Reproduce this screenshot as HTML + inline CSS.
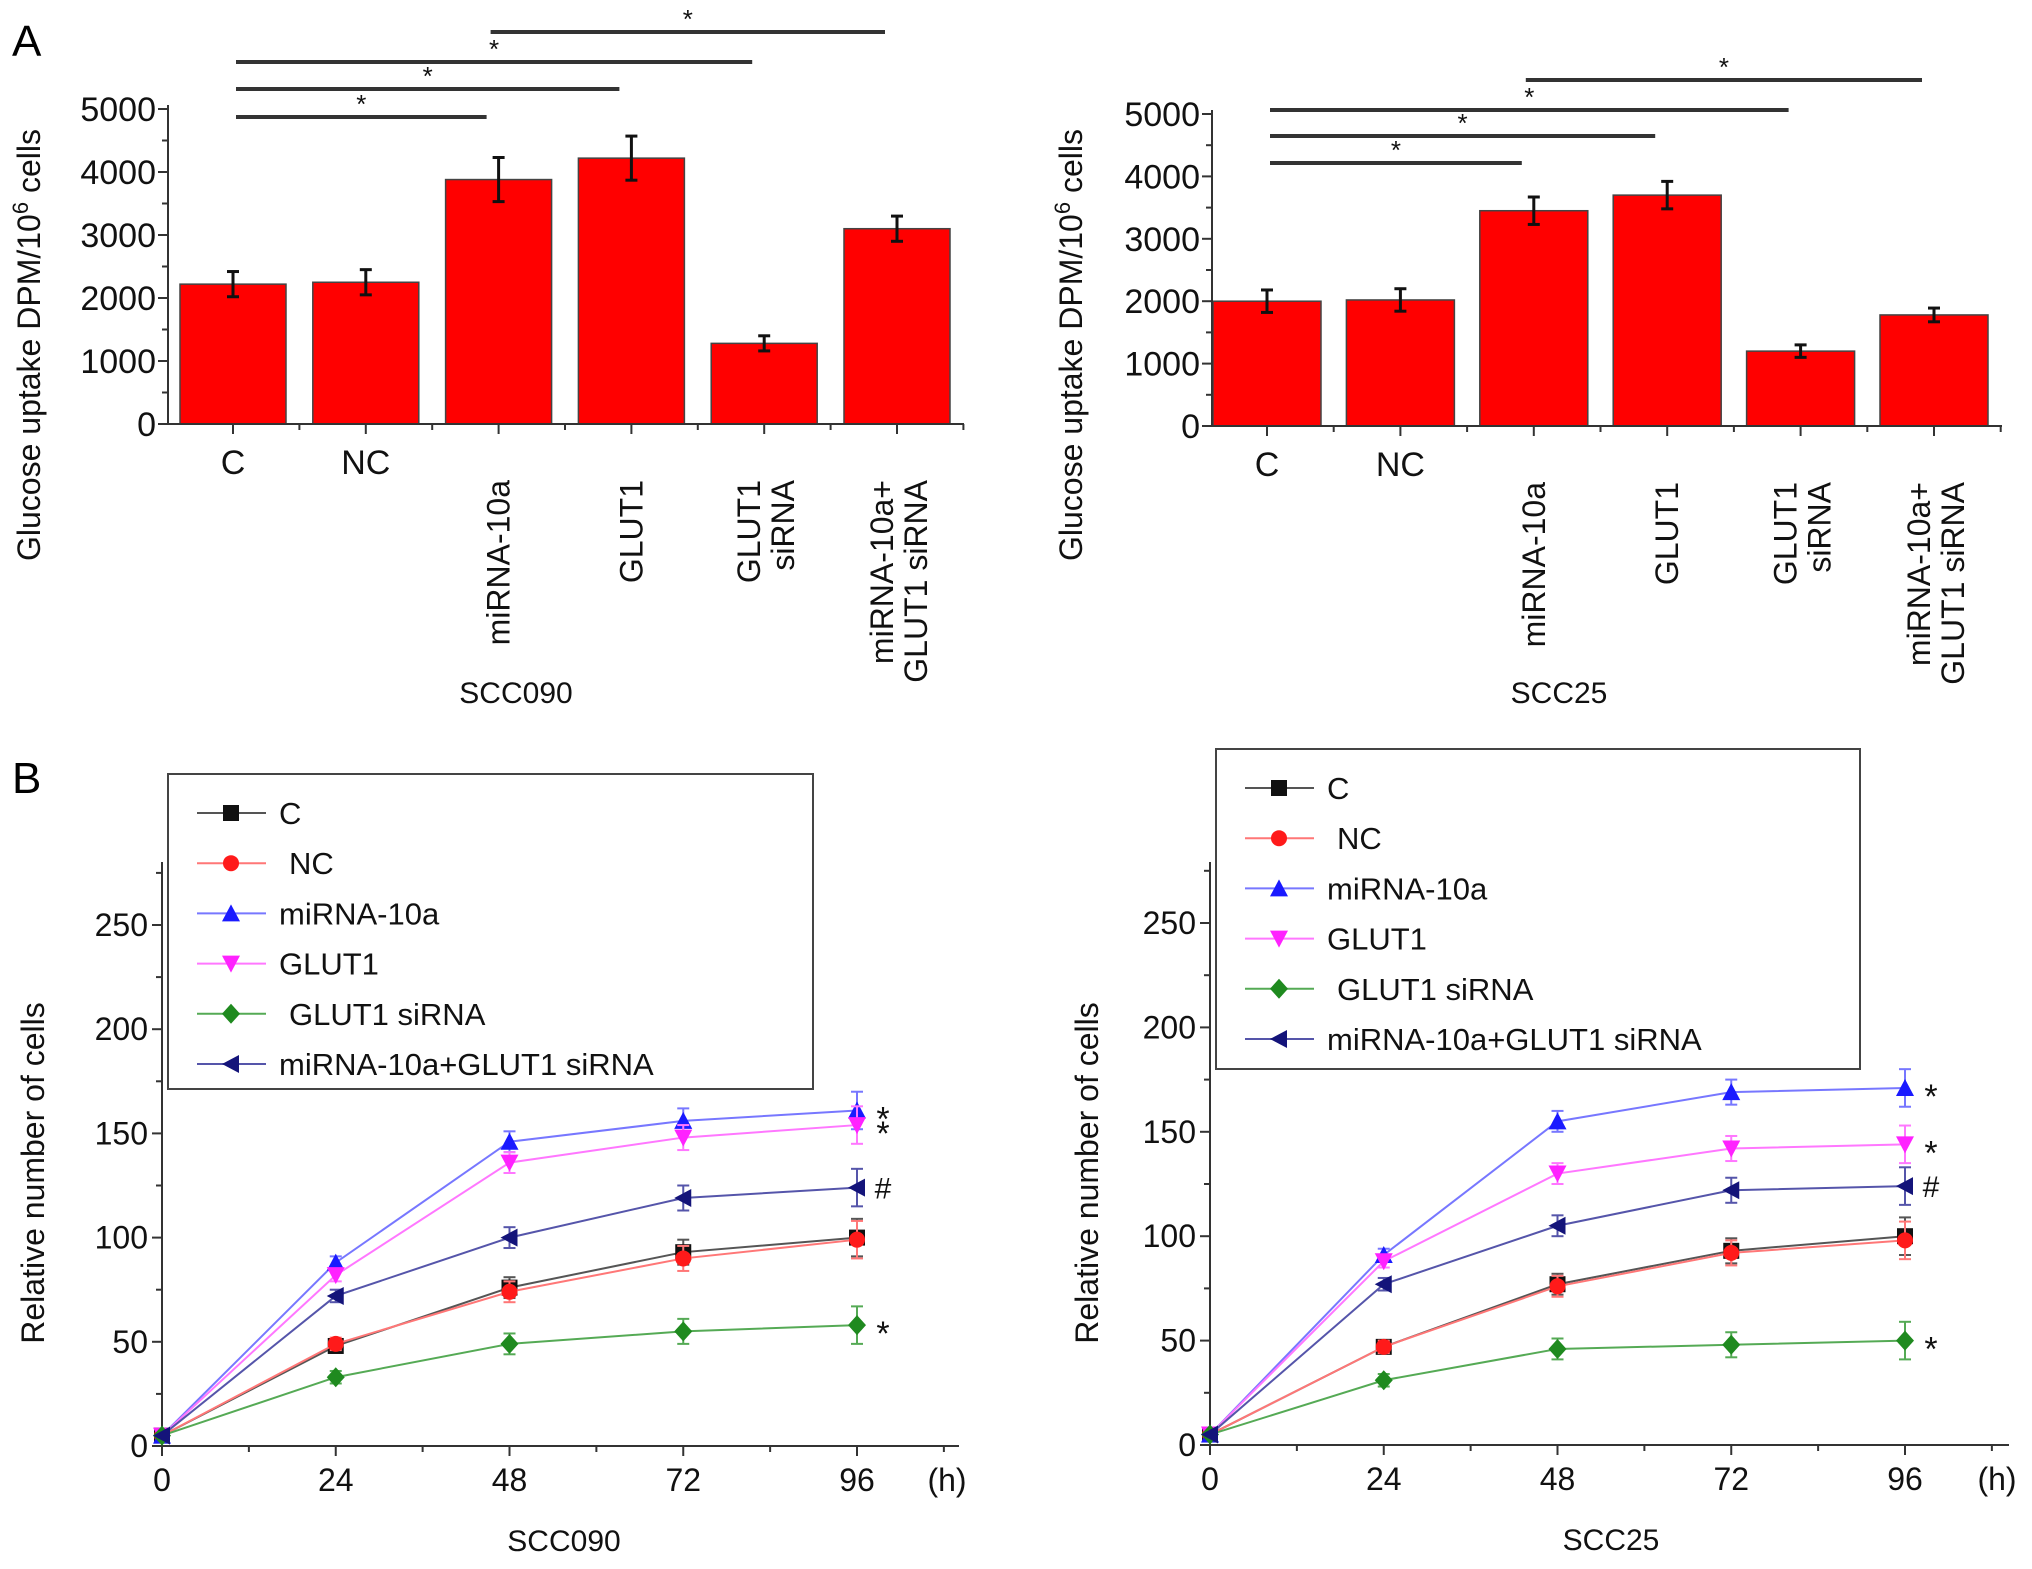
<!DOCTYPE html>
<html><head><meta charset="utf-8"><style>
html,body{margin:0;padding:0;background:#fff}
svg{display:block;font-family:"Liberation Sans",Arial,sans-serif}
</style></head><body>
<svg id="fig" width="2032" height="1569" viewBox="0 0 2032 1569" xmlns="http://www.w3.org/2000/svg">
<text x="12" y="56" font-size="44">A</text>
<text x="12" y="793" font-size="44">B</text>
</svg>
<script>
const barCategories = [["C"],["NC"],["miRNA-10a"],["GLUT1"],["GLUT1","siRNA"],["miRNA-10a+","GLUT1 siRNA"]];
const barValuesSCC090 = [2220,2250,3880,4220,1280,3100];
const barErrSCC090 = [200,200,350,350,120,200];
const barValuesSCC25 = [2000,2020,3450,3700,1200,1780];
const barErrSCC25 = [180,180,220,220,100,110];
const barTicks = [0,1000,2000,3000,4000,5000];
const sigSCC090 = [[0,2,"*"],[0,3,"*"],[0,4,"*"],[2,5,"*"]];
const sigSCC25 = [[0,2,"*"],[0,3,"*"],[0,4,"*"],[2,5,"*"]];

const lineHours = [0,24,48,72,96];
const lineTicks = [0,50,100,150,200,250];
const seriesNames = ["C","NC","miRNA-10a","GLUT1","GLUT1 siRNA","miRNA-10a+GLUT1 siRNA"];
const scc090_C = [5,48,76,93,100];
const scc090_NC = [5,49,74,90,99];
const scc090_miR = [5,88,146,156,161];
const scc090_GLUT1 = [5,82,136,148,154];
const scc090_si = [5,33,49,55,58];
const scc090_combo = [5,72,100,119,124];
const scc25_C = [5,47,77,93,100];
const scc25_NC = [5,47,76,92,98];
const scc25_miR = [5,91,155,169,171];
const scc25_GLUT1 = [5,88,130,142,144];
const scc25_si = [5,31,46,48,50];
const scc25_combo = [5,77,105,122,124];
const lineErr = [1,3,5,6,9];
const endMarks090 = ["","","*","*","*","#"];
const endMarks25 = ["","","*","*","*","#"];

const NS="http://www.w3.org/2000/svg";
const svg=document.getElementById('fig');
function el(tag,attrs,parent){const e=document.createElementNS(NS,tag);for(const k in attrs)e.setAttribute(k,attrs[k]);(parent||svg).appendChild(e);return e;}
function txt(x,y,s,size,anchor,parent,extra){const t=el('text',Object.assign({x:x,y:y,'font-size':size,'text-anchor':anchor||'middle',fill:'#111'},extra||{}),parent);t.textContent=s;return t;}

function barChart(cfg){
  const g=el('g',{});
  
  
  const y=v=>cfg.y0-(v/5000)*(cfg.y0-cfg.y5);
  const x=i=>cfg.x0+i*cfg.step;
  cfg.values.forEach((v,i)=>{
    const b=el('rect',{x:x(i)-cfg.bw/2,y:y(v),width:cfg.bw,height:cfg.y0-y(v),fill:'#ff0000',stroke:'#444','stroke-width':1.5},g);
    
    
    const e=cfg.err[i];
    el('line',{x1:x(i),x2:x(i),y1:y(v+e),y2:y(v-e),stroke:'#111','stroke-width':3},g);
    el('line',{x1:x(i)-6,x2:x(i)+6,y1:y(v+e),y2:y(v+e),stroke:'#111','stroke-width':3},g);
    el('line',{x1:x(i)-6,x2:x(i)+6,y1:y(v-e),y2:y(v-e),stroke:'#111','stroke-width':3},g);
  });
  el('line',{x1:cfg.ax,x2:cfg.ax,y1:cfg.y0,y2:cfg.y5-4,stroke:'#333','stroke-width':2},g);
  el('line',{x1:cfg.ax,x2:cfg.xend,y1:cfg.y0,y2:cfg.y0,stroke:'#333','stroke-width':2},g);
  barTicks.forEach(t=>{
    el('line',{x1:cfg.ax-10,x2:cfg.ax,y1:y(t),y2:y(t),stroke:'#333','stroke-width':2},g);
    if(t<5000) el('line',{x1:cfg.ax-6,x2:cfg.ax,y1:y(t+500),y2:y(t+500),stroke:'#333','stroke-width':2},g);
    const l=txt(cfg.ax-12,y(t)+12,String(t),34,'end',g);
    
    
  });
  barCategories.forEach((c,i)=>{
    el('line',{x1:x(i),x2:x(i),y1:cfg.y0,y2:cfg.y0+10,stroke:'#333','stroke-width':2},g);
    el('line',{x1:x(i)+cfg.step/2,x2:x(i)+cfg.step/2,y1:cfg.y0,y2:cfg.y0+6,stroke:'#333','stroke-width':2},g);
    let l;
    if(i<2){ l=txt(x(i),cfg.y0+50,c[0],34,'middle',g); }
    else{
      l=el('text',{transform:`translate(${x(i)+(c.length>1?-4:11)},${cfg.y0+56}) rotate(-90)`,'font-size':32,'text-anchor':'end',fill:'#111',textLength:0},g);
      l.removeAttribute('textLength');
      c.forEach((s,k)=>{const ts=el('tspan',{x:0,dy:k==0?0:34},l);ts.textContent=s;});
    }
    
    
  });
  const yt=el('text',{transform:`translate(${cfg.ytx},${cfg.yty}) rotate(-90)`,'font-size':32,'text-anchor':'middle',fill:'#111'},g);
  yt.innerHTML='Glucose uptake DPM/10<tspan dy="-12" font-size="22">6</tspan><tspan dy="12"> cells</tspan>';
  
  
  const xt=txt(cfg.xtx,703,cfg.title,30,'middle',g);
  
  
  cfg.sig.forEach((s,k)=>{
    const ly=cfg.sigY[k];
    const xa=x(s[0])+(s[0]==2?-8:3), xb=x(s[1])-12;
    const ln=el('line',{x1:xa,x2:xb,y1:ly,y2:ly,stroke:'#333','stroke-width':4},g);
    
    
    txt((xa+xb)/2,ly-4,s[2],26,'middle',g);
  });
}
barChart({name:'bar-chart-scc090',x0:233,step:132.8,bw:106,ax:168,xend:964,y0:424,y5:109,values:barValuesSCC090,err:barErrSCC090,sig:sigSCC090,sigY:[117,89,62,32],ytx:40,yty:345,xtx:516,title:'SCC090'});
barChart({name:'bar-chart-scc25',x0:1267,step:133.4,bw:108,ax:1212,xend:2002,y0:426,y5:114,values:barValuesSCC25,err:barErrSCC25,sig:sigSCC25,sigY:[163,136,110,80],ytx:1082,yty:345,xtx:1559,title:'SCC25'});

const colors=['#111111','#ff1a1a','#1a1aff','#ff22ff','#1f8a1f','#14147a'];
const lineColors=['#555','#ff7777','#7777ff','#ff77ff','#55aa55','#5555aa'];
function marker(g,type,cx,cy,c){
  const s=8;
  if(type==0) return el('rect',{x:cx-s,y:cy-s,width:2*s,height:2*s,fill:c},g);
  if(type==1) return el('circle',{cx:cx,cy:cy,r:s,fill:c},g);
  if(type==2) return el('polygon',{points:`${cx},${cy-s-1} ${cx+s+1},${cy+s} ${cx-s-1},${cy+s}`,fill:c},g);
  if(type==3) return el('polygon',{points:`${cx},${cy+s+1} ${cx+s+1},${cy-s} ${cx-s-1},${cy-s}`,fill:c},g);
  if(type==4) return el('polygon',{points:`${cx},${cy-s-2} ${cx+s+1},${cy} ${cx},${cy+s+2} ${cx-s-1},${cy}`,fill:c},g);
  return el('polygon',{points:`${cx-s-1},${cy} ${cx+s},${cy-s-1} ${cx+s},${cy+s+1}`,fill:c},g);
}
function lineChart(cfg){
  const g=el('g',{});
  
  
  const y=v=>cfg.y0-(v/250)*(cfg.y0-cfg.y250);
  const x=h=>cfg.x0+(h/96)*(cfg.x96-cfg.x0);
  el('line',{x1:cfg.x0,x2:cfg.x0,y1:cfg.y0,y2:cfg.ytop,stroke:'#333','stroke-width':2},g);
  el('line',{x1:cfg.x0,x2:cfg.xend,y1:cfg.y0,y2:cfg.y0,stroke:'#333','stroke-width':2},g);
  for(let v=0;v<=275;v+=25){
    const major=v%50==0;
    el('line',{x1:cfg.x0-(major?10:6),x2:cfg.x0,y1:y(v),y2:y(v),stroke:'#333','stroke-width':2},g);
  }
  lineTicks.forEach(t=>{
    const l=txt(cfg.x0-14,y(t)+11,String(t),32,'end',g);
    
    
  });
  for(let h=0;h<=108;h+=12){
    el('line',{x1:x(h),x2:x(h),y1:cfg.y0,y2:cfg.y0+(h%24==0?10:6),stroke:'#333','stroke-width':2},g);
  }
  lineHours.forEach(h=>{
    const l=txt(x(h),cfg.y0+45,String(h),32,'middle',g);
    
    
  });
  txt(cfg.xend-12,cfg.y0+45,'(h)',32,'middle',g);
  const xt=txt(cfg.xtx,cfg.y0+105,cfg.title,30,'middle',g);
  
  
  const yt=el('text',{transform:`translate(${cfg.ytx},${cfg.yty}) rotate(-90)`,'font-size':32,'text-anchor':'middle',fill:'#111'},g);
  yt.textContent='Relative number of cells';
  
  
  cfg.series.forEach((vals,si)=>{
    const sg=el('g',{},g);
    
    
    el('polyline',{points:vals.map((v,i)=>x(lineHours[i])+','+y(v)).join(' '),fill:'none',stroke:lineColors[si],'stroke-width':2},sg);
    vals.forEach((v,i)=>{
      const e=lineErr[i];
      if(e>1){
        el('line',{x1:x(lineHours[i]),x2:x(lineHours[i]),y1:y(v+e),y2:y(v-e),stroke:lineColors[si],'stroke-width':2},sg);
        el('line',{x1:x(lineHours[i])-6,x2:x(lineHours[i])+6,y1:y(v+e),y2:y(v+e),stroke:lineColors[si],'stroke-width':2},sg);
        el('line',{x1:x(lineHours[i])-6,x2:x(lineHours[i])+6,y1:y(v-e),y2:y(v-e),stroke:lineColors[si],'stroke-width':2},sg);
      }
      const m=marker(sg,si,x(lineHours[i]),y(v),colors[si]);
      
      
    });
    const mk=cfg.marks[si];
    if(mk){const t=txt(x(96)+26,y(vals[4])+(mk=='#'?11:20),mk,mk=='#'?30:34,'middle',g);
      
      }
  });
  const lg=el('g',{},g);
  
  
  el('rect',{x:cfg.lx,y:cfg.ly,width:cfg.lw,height:cfg.lh,fill:'#fff',stroke:'#444','stroke-width':2},lg);
  seriesNames.forEach((n,i)=>{
    const ey=cfg.ly+39+i*cfg.lstep;
    const eg=el('g',{},lg);
    
    
    el('line',{x1:cfg.lx+29,x2:cfg.lx+98,y1:ey,y2:ey,stroke:lineColors[i],'stroke-width':2},eg);
    marker(eg,i,cfg.lx+63,ey,colors[i]);
    txt(cfg.lx+(i==1||i==4?121:111),ey+11,n,31,'start',eg);
  });
}
lineChart({name:'line-chart-scc090',x0:162,x96:857,xend:959,y0:1446,y250:925,ytop:862,
  series:[scc090_C,scc090_NC,scc090_miR,scc090_GLUT1,scc090_si,scc090_combo],marks:endMarks090,
  xtx:564,title:'SCC090',ytx:44,yty:1173,lx:168,ly:774,lw:645,lh:315,lstep:50.2});
lineChart({name:'line-chart-scc25',x0:1210,x96:1905,xend:2009,y0:1445,y250:923,ytop:862,
  series:[scc25_C,scc25_NC,scc25_miR,scc25_GLUT1,scc25_si,scc25_combo],marks:endMarks25,
  xtx:1611,title:'SCC25',ytx:1098,yty:1173,lx:1216,ly:749,lw:644,lh:320,lstep:50.2});
</script>
</body></html>
